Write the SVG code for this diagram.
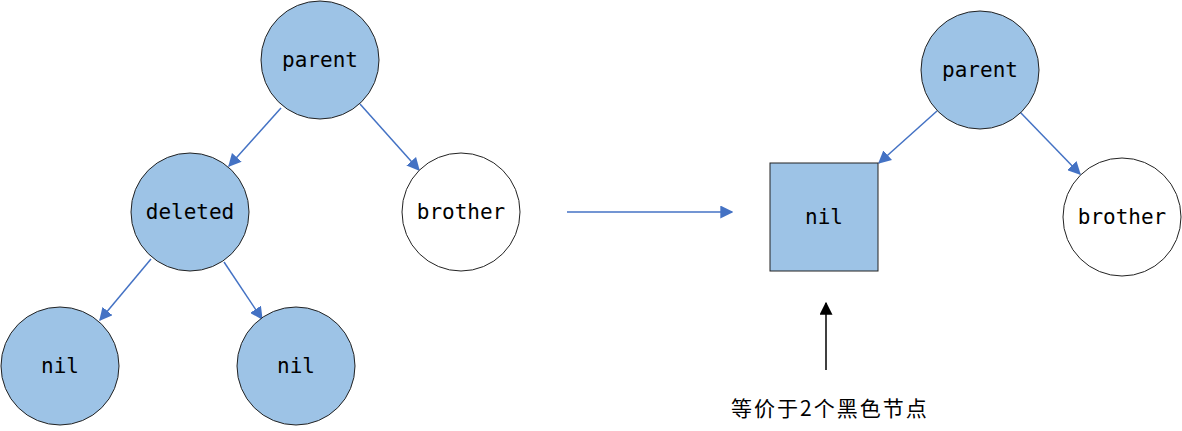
<svg xmlns="http://www.w3.org/2000/svg" width="1182" height="431" viewBox="0 0 1182 431">
<style>
.n{fill:#9DC3E6;stroke:#222;stroke-width:1}
.w{fill:#fff;stroke:#222;stroke-width:1}
.t{font-family:"DejaVu Sans Mono","Liberation Mono",monospace;font-size:21px;fill:#000;text-anchor:middle;dominant-baseline:central}
.c{stroke:#4472C4;stroke-width:1.5;fill:none;marker-end:url(#ab)}
.k{stroke:#000;stroke-width:1.5;fill:none;marker-end:url(#ak)}
.cn{font-family:"Noto Sans CJK SC",sans-serif;font-size:21px;fill:#000;letter-spacing:2px}
</style>
<defs>
<marker id="ab" viewBox="0 0 10 10" refX="9" refY="5" markerWidth="13" markerHeight="13" markerUnits="userSpaceOnUse" orient="auto"><path d="M0,0L10,5L0,10z" fill="#4472C4"/></marker>
<marker id="ak" viewBox="0 0 10 10" refX="9" refY="5" markerWidth="13" markerHeight="13" markerUnits="userSpaceOnUse" orient="auto"><path d="M0,0L10,5L0,10z" fill="#000"/></marker>
</defs>
<g id="connectors">
<line class="c" x1="281" y1="108" x2="229" y2="166"/>
<line class="c" x1="360" y1="104" x2="419" y2="170"/>
<line class="c" x1="151" y1="259" x2="100" y2="320"/>
<line class="c" x1="224" y1="262" x2="262" y2="319"/>
<line class="c" x1="567" y1="212" x2="732" y2="212"/>
<line class="c" x1="937" y1="111" x2="879" y2="163"/>
<line class="c" x1="1020" y1="112" x2="1080" y2="174"/>
<line class="k" x1="826" y1="370" x2="826" y2="303"/>
</g>
<g id="parent"><circle class="n" cx="320" cy="60" r="59"/><text class="t" x="320" y="60">parent</text></g>
<g id="deleted"><circle class="n" cx="190" cy="212" r="59"/><text class="t" x="190" y="212">deleted</text></g>
<g id="brother"><circle class="w" cx="461" cy="212" r="59"/><text class="t" x="461" y="212">brother</text></g>
<g id="nil1"><circle class="n" cx="60" cy="366" r="59"/><text class="t" x="60" y="366">nil</text></g>
<g id="nil2"><circle class="n" cx="296" cy="366" r="59"/><text class="t" x="296" y="366">nil</text></g>
<g id="parent2"><circle class="n" cx="980" cy="70" r="59"/><text class="t" x="980" y="70">parent</text></g>
<g id="nilbox"><rect class="n" x="770" y="163" width="108" height="108"/><text class="t" x="824" y="217">nil</text></g>
<g id="brother2"><circle class="w" cx="1122" cy="217" r="59"/><text class="t" x="1122" y="217">brother</text></g>
<g id="note"><text class="cn" x="731" y="416">等价于2个黑色节点</text></g>
</svg>
